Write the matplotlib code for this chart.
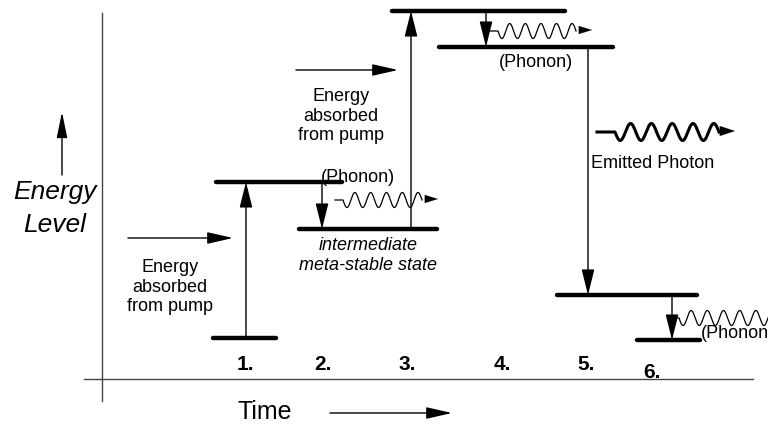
import numpy as np
import matplotlib
matplotlib.use("Agg")
import matplotlib.pyplot as plt

plt.rcParams['font.family'] = ['Liberation Sans', 'DejaVu Sans']

# Energy level bars: (x_start, x_end, y)  in picture units (y downward)
level_x0 = [213, 216, 299, 392, 439, 557, 637]
level_x1 = [276, 342, 437, 565, 613, 697, 700]
level_y = [338, 182, 229, 11, 47, 295, 340]

# Transition arrows
trans_x = [246, 322, 411, 486, 588, 672]
trans_y0 = [338, 182, 229, 11, 47, 295]
trans_y1 = [182, 229, 11, 47, 295, 340]

# Step numbers
step_labels = ["1.", "2.", "3.", "4.", "5.", "6."]
step_x = [245, 323, 407, 502, 586, 652]
step_y = [364, 364, 364, 364, 364, 373]

# Waves
wave_x0 = [335, 490, 673, 597]
wave_x1 = [438, 592, 768, 735]
wave_y = [200, 31, 318, 132]
wave_n = [5, 5, 5.5, 5]
wave_lw = [0.9, 0.9, 0.9, 2.2]
wave_amp = [7.5, 7.5, 7.5, 8.5]
wave_lead = [8, 8, 6, 18]
wave_head = [True, True, False, True]

fig = plt.figure(figsize=(7.68, 4.25), dpi=100)
ax = fig.add_axes([0, 0, 1, 1])
ax.set_xlim(0, 768)
ax.set_ylim(425, 0)
ax.axis('off')

# axes lines
ax.plot([102, 102], [13, 401], color='#444444', lw=1.0)
ax.plot([84, 753], [379, 379], color='#444444', lw=1.0)

# levels
for x0, x1, y in zip(level_x0, level_x1, level_y):
    ax.plot([x0, x1], [y, y], color='black', lw=3.2, solid_capstyle='round')

def arrow(x0, y0, x1, y1, lw=1.0, w=10, l=22):
    # w, l in pixels (full head width, head length)
    ax.annotate('', xy=(x1, y1), xytext=(x0, y0),
                arrowprops=dict(arrowstyle='-|>,head_width=%f,head_length=%f' % (w / 2 * 0.72, l * 0.72),
                                color='black', lw=lw, shrinkA=0, shrinkB=0,
                                mutation_scale=1))

for x, y0, y1 in zip(trans_x, trans_y0, trans_y1):
    arrow(x, y0, x, y1, lw=1.0, w=11, l=22)

# waves
for x0, x1, y, n, lw, a, lead, head in zip(wave_x0, wave_x1, wave_y, wave_n, wave_lw,
                                          wave_amp, wave_lead, wave_head):
    tail = 16 if head else 0
    xs = np.linspace(x0 + lead, x1 - tail, 400)
    t = (xs - xs[0]) / (xs[-1] - xs[0])
    ys = y + a * np.sin(2 * np.pi * n * t)
    xx = np.concatenate([[x0], xs])
    yy = np.concatenate([[y], ys])
    ax.plot(xx, yy, color='black', lw=lw)
    if head:
        arrow(x1 - tail, y - 1, x1, y - 1, lw=0.1, w=8 if lw < 1.5 else 10, l=13 if lw < 1.5 else 15)

# pump arrows
arrow(128, 238, 233, 238, lw=1.0, w=10, l=22)
arrow(296, 70, 398, 70, lw=1.0, w=10, l=22)
# energy axis arrow
arrow(62, 175, 62, 112, lw=1.0, w=9, l=22)
# time arrow
arrow(330, 413, 452, 413, lw=1.0, w=10, l=22)

fs = 13
ax.text(170, 287, "Energy\nabsorbed\nfrom pump", ha='center', va='center', fontsize=fs, linespacing=1.2)
ax.text(341, 116, "Energy\nabsorbed\nfrom pump", ha='center', va='center', fontsize=fs, linespacing=1.2)
ax.text(358, 177, "(Phonon)", ha='center', va='center', fontsize=fs)
ax.text(536, 62, "(Phonon)", ha='center', va='center', fontsize=fs)
ax.text(701, 333, "(Phonon", ha='left', va='center', fontsize=fs)
ax.text(368, 245, "intermediate", ha='center', va='center', fontsize=fs, style='italic')
ax.text(368, 266, "meta-stable state", ha='center', va='center', fontsize=fs, style='italic')
ax.text(653, 164, "Emitted Photon", ha='center', va='center', fontsize=fs)
ax.text(55, 192, "Energy", ha='center', va='center', fontsize=19, style='italic')
ax.text(55, 225, "Level", ha='center', va='center', fontsize=19, style='italic')
ax.text(265, 412, "Time", ha='center', va='center', fontsize=18)

for lab, x, y in zip(step_labels, step_x, step_y):
    ax.text(x, y, lab, ha='center', va='center', fontsize=15, fontweight='bold')

fig.savefig("out.png", dpi=100)
